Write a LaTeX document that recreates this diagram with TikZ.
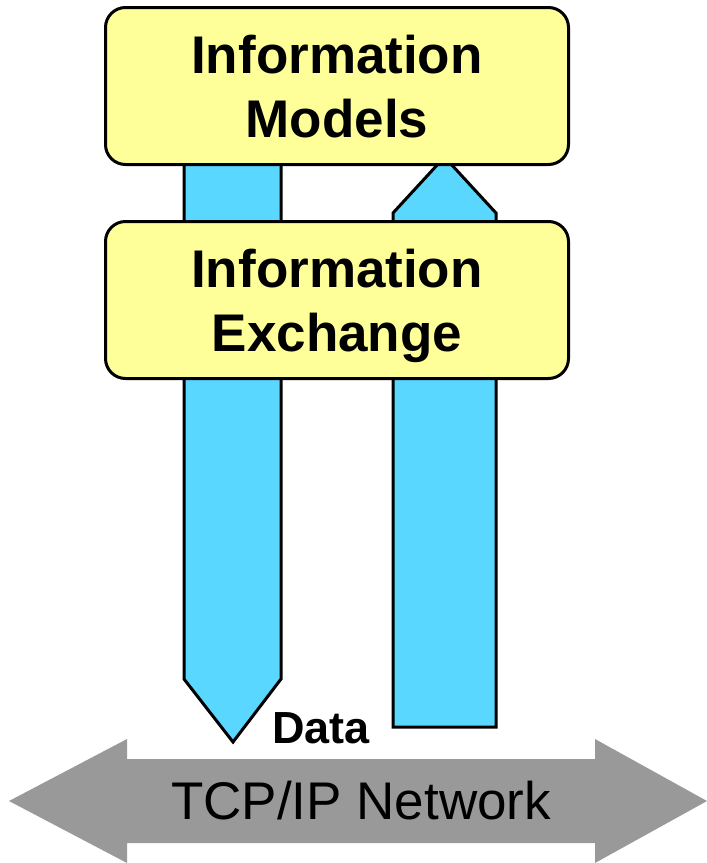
\documentclass[tikz,border=0pt]{standalone}
\usepackage{fontspec}
\setmainfont{Liberation Sans}
\usetikzlibrary{positioning}
\definecolor{boxyellow}{RGB}{255,255,153}
\definecolor{flowblue}{RGB}{90,215,255}
\definecolor{netgray}{RGB}{153,153,153}
\tikzset{
    box style/.style={draw,line width=3pt,rounded corners=20pt,fill=boxyellow,%
        minimum width=463pt,minimum height=157pt,align=center,text depth=0pt,%
        font=\fontsize{53}{64}\selectfont\bfseries},
    flow style/.style={draw,line width=3pt,fill=flowblue,line join=miter},
    label style/.style={inner sep=0pt},
}

\begin{document}
\begin{tikzpicture}[x=1pt,y=-1pt]
\useasboundingbox (0,0) rectangle (707,863);
% le reseau
\fill[netgray] (9,801) -- (127,739) -- (127,759) -- (595,759) -- (595,739)
    -- (707,801) -- (595,863) -- (595,843) -- (127,843) -- (127,863) -- cycle;
\node [label style,font=\fontsize{53}{64}\selectfont] (net) at (361,801)
    {TCP/IP Network};
% les fleches
\draw [flow style] (184,160) -- (184,679) -- (233,742) -- (281,679)
    -- (281,160) -- cycle;
\draw [flow style] (393,727) -- (393,213) -- (444.5,157) -- (496,213)
    -- (496,727) -- cycle;
\node [label style,anchor=base,font=\fontsize{45}{52}\selectfont\bfseries]
    (data) at (321,743) {Data};
% les boites
\node [box style] (models) at (337,86)
    {Information\\Models};
\node [box style,below=54pt of models] (exchange)
    {Information\\Exchange};
\end{tikzpicture}
\end{document}
